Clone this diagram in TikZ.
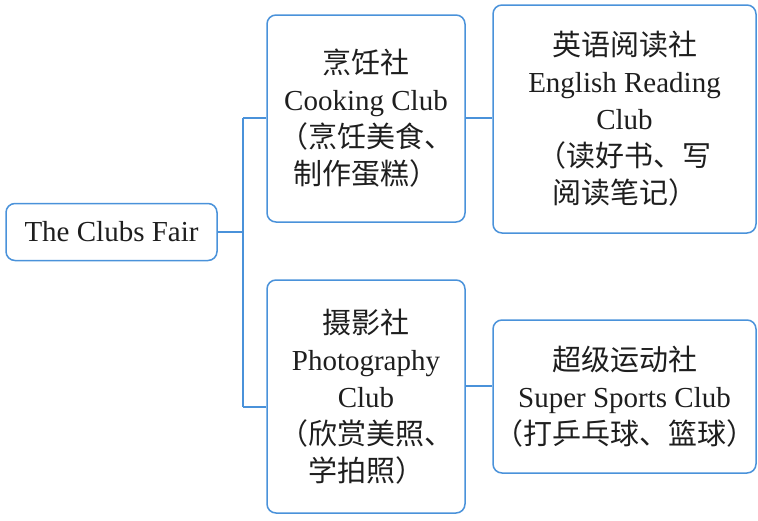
\documentclass[tikz,border=0pt]{standalone}
\usepackage{fontspec}
\setmainfont{Liberation Serif}
\newfontfamily\cjk{Noto Sans CJK SC}
\definecolor{boxblue}{RGB}{74,146,218}
\definecolor{txt}{RGB}{30,30,30}
\begin{document}
\begin{tikzpicture}[x=1pt,y=-1pt,
  clubbox/.style={draw=boxblue, line width=1.5pt, rounded corners=9pt, inner sep=0pt,
    align=center, text=txt, font=\fontsize{29}{37}\selectfont},
  link/.style={draw=boxblue, line width=1.5pt}]
\useasboundingbox (0,0) rectangle (758,520);
\node[clubbox, minimum width=211pt, minimum height=57pt] (fair) at (111.5,232) {The Clubs Fair};
\node[clubbox, minimum width=198pt, minimum height=207pt] (cook) at (366,118.5)
  {{\cjk 烹饪社}\\Cooking Club\\{\cjk （烹饪美食、}\\{\cjk 制作蛋糕）}};
\node[clubbox, minimum width=263pt, minimum height=228pt] (eng) at (624.5,119)
  {{\cjk 英语阅读社}\\English Reading\\Club\\{\cjk （读好书、写}\\{\cjk 阅读笔记）}};
\node[clubbox, minimum width=198pt, minimum height=233pt] (photo) at (366,396.5)
  {{\cjk 摄影社}\\Photography\\Club\\{\cjk （欣赏美照、}\\{\cjk 学拍照）}};
\node[clubbox, minimum width=263pt, minimum height=153pt] (sport) at (624.5,396.5)
  {{\cjk 超级运动社}\\Super Sports Club\\{\cjk （打乒乓球、篮球）}};
\coordinate (ja) at (243,118);
\coordinate (jb) at (243,407);
\coordinate (ps) at (0,386);
\draw[link] (fair.east) -- (fair.east -| ja);
\draw[link] (ja) -- (jb);
\draw[link] (ja) -- (ja -| cook.west);
\draw[link] (jb) -- (jb -| photo.west);
\draw[link] (cook.east |- ja) -- (eng.west |- ja);
\draw[link] (photo.east |- ps) -- (sport.west |- ps);
\end{tikzpicture}
\end{document}
